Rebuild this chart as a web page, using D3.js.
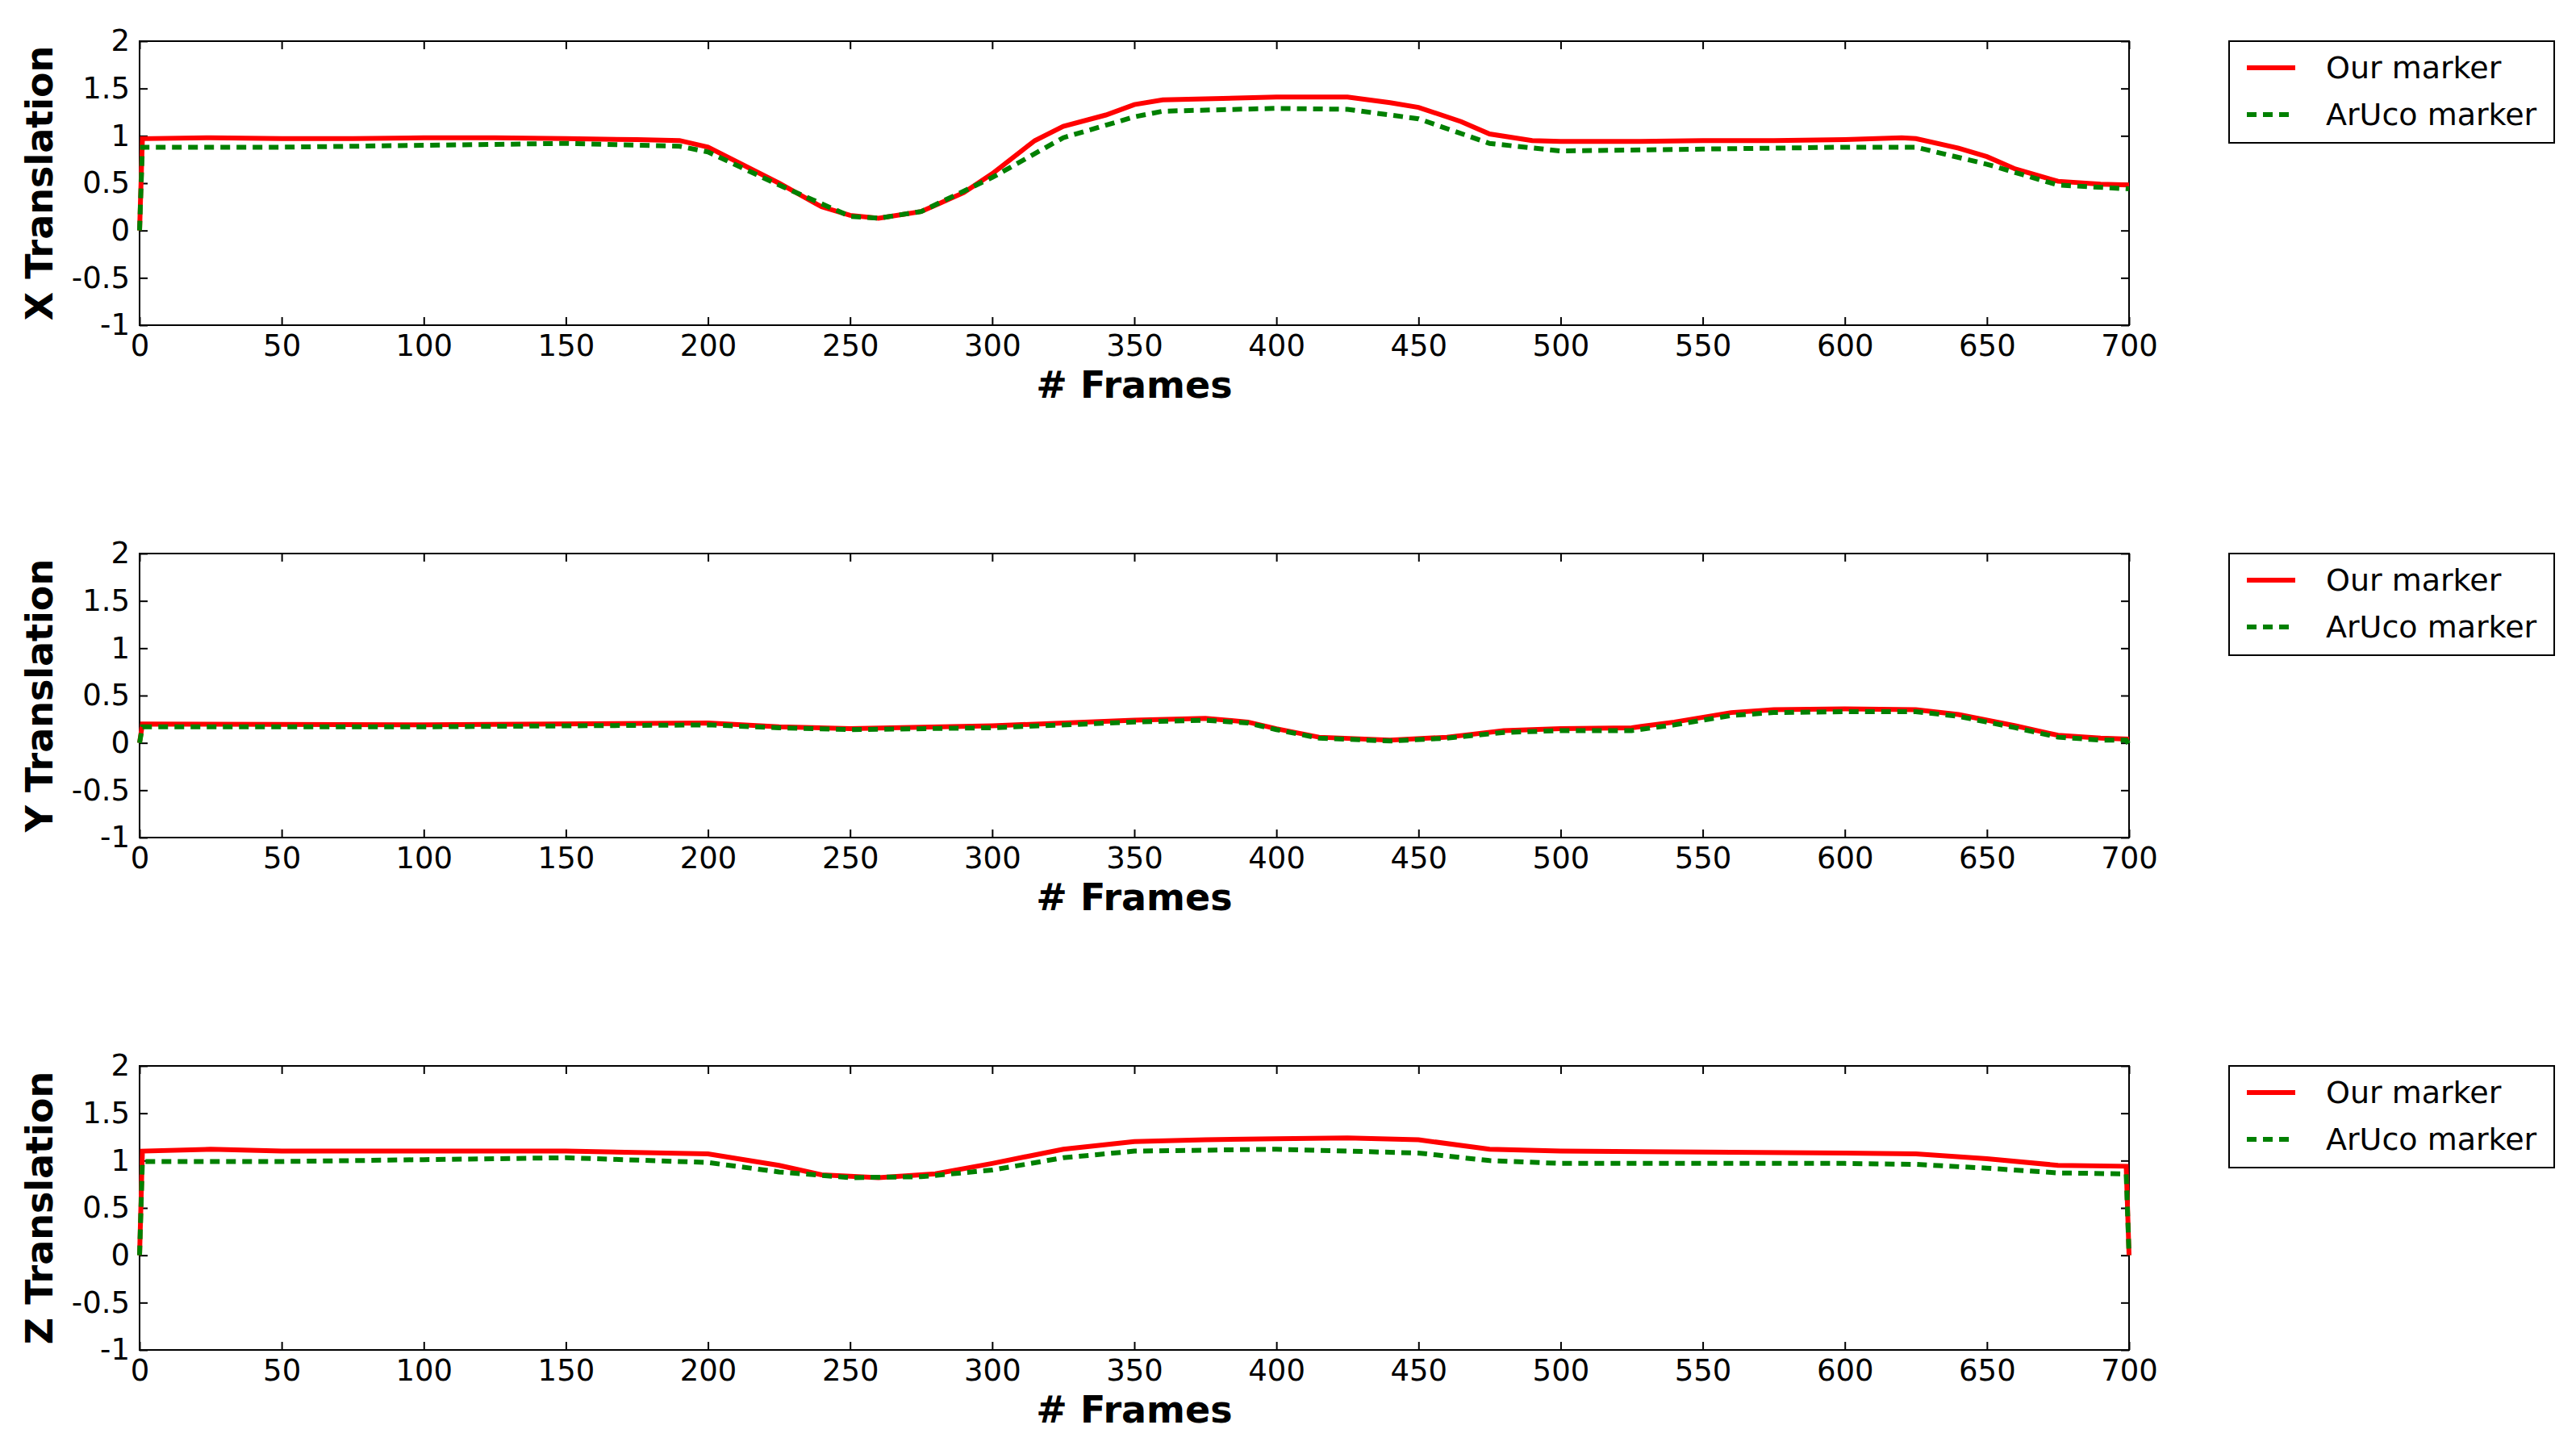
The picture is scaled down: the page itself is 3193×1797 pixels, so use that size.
<!DOCTYPE html><html><head><meta charset="utf-8">
<script src="https://cdn.jsdelivr.net/npm/d3@7"></script>
<style>body{margin:0;background:#fff}svg{font-family:"DejaVu Sans",sans-serif}</style></head><body>
<script>
const xTicks=[0,50,100,150,200,250,300,350,400,450,500,550,600,650,700];
const yTicks=[-1,-0.5,0,0.5,1,1.5,2];
const seriesNames=["Our marker","ArUco marker"];
const panelLabels=["X Translation","Y Translation","Z Translation"];
const xOurFrames=[0,1,25,50,75,100,125,150,175,190,200,225,240,250,260,275,290,300,315,325,340,350,360,375,400,425,440,450,465,475,490,500,525,550,575,600,620,625,640,650,660,675,690,700];
const xOurVals=[0,0.97,0.98,0.97,0.97,0.98,0.98,0.97,0.96,0.95,0.88,0.5,0.25,0.16,0.13,0.2,0.4,0.6,0.95,1.1,1.22,1.33,1.38,1.39,1.41,1.41,1.35,1.3,1.15,1.02,0.95,0.94,0.94,0.95,0.95,0.96,0.98,0.97,0.87,0.78,0.65,0.52,0.49,0.48];
const xArFrames=[0,1,50,100,150,190,200,225,250,260,275,300,325,350,360,400,425,450,475,500,550,600,625,650,675,700];
const xArVals=[0,0.88,0.88,0.9,0.92,0.89,0.83,0.48,0.15,0.13,0.2,0.56,0.98,1.2,1.26,1.29,1.28,1.18,0.92,0.84,0.86,0.88,0.88,0.7,0.48,0.44];
const yOurFrames=[0,1,100,200,225,250,300,350,375,390,400,415,440,460,480,500,525,540,560,575,600,625,640,660,675,690,700];
const yOurVals=[0,0.2,0.19,0.21,0.17,0.15,0.18,0.24,0.26,0.22,0.15,0.06,0.03,0.06,0.13,0.15,0.16,0.22,0.32,0.35,0.36,0.35,0.3,0.18,0.08,0.05,0.04];
const yArFrames=[0,1,100,200,225,250,300,350,375,390,400,415,440,460,480,500,525,540,560,575,600,625,640,660,675,690,699,700];
const yArVals=[0,0.17,0.17,0.19,0.16,0.14,0.16,0.22,0.24,0.21,0.14,0.05,0.02,0.05,0.11,0.13,0.13,0.19,0.29,0.32,0.33,0.33,0.28,0.16,0.06,0.03,0.03,-0.02];
const zOurFrames=[0,1,25,50,100,150,200,225,240,260,280,300,325,350,375,400,425,450,475,500,550,600,625,650,675,699,700];
const zOurVals=[0,1.1,1.12,1.1,1.1,1.1,1.07,0.95,0.85,0.82,0.86,0.97,1.12,1.2,1.22,1.23,1.24,1.22,1.12,1.1,1.09,1.08,1.07,1.02,0.95,0.94,0];
const zArFrames=[0,1,50,100,150,200,225,250,275,300,325,350,400,450,475,500,600,625,650,675,699,700];
const zArVals=[0,0.99,0.99,1.01,1.03,0.98,0.88,0.82,0.83,0.9,1.03,1.1,1.12,1.08,1.0,0.97,0.97,0.96,0.92,0.87,0.86,0];
const panels=[[xOurFrames,xOurVals,xArFrames,xArVals],[yOurFrames,yOurVals,yArFrames,yArVals],[zOurFrames,zOurVals,zArFrames,zArVals]];

const W=3193,H=1797,L=173,R=2639,tops=[51,686,1321],ph=352;
const svg=d3.select("body").append("svg").attr("width",W).attr("height",H);
const x=d3.scaleLinear().domain([0,700]).range([L,R]);
panels.forEach((p,i)=>{
  const t=tops[i];
  const y=d3.scaleLinear().domain([-1,2]).range([t+ph,t]);
  const g=svg.append("g");
  g.append("rect").attr("x",L).attr("y",t).attr("width",R-L).attr("height",ph).attr("fill","none").attr("stroke","#000").attr("stroke-width",2);
  const ax=g.append("g").attr("transform",`translate(0,${t+ph})`).call(d3.axisBottom(x).tickValues(xTicks).tickSize(-10).tickPadding(12));
  const ax2=g.append("g").attr("transform",`translate(0,${t})`).call(d3.axisTop(x).tickValues(xTicks).tickSize(-10).tickFormat(""));
  const ay=g.append("g").attr("transform",`translate(${L},0)`).call(d3.axisLeft(y).tickValues(yTicks).tickSize(-10).tickPadding(12).tickFormat(d3.format("")));
  const ay2=g.append("g").attr("transform",`translate(${R},0)`).call(d3.axisRight(y).tickValues(yTicks).tickSize(-10).tickFormat(""));
  [ax,ax2,ay,ay2].forEach(a=>{a.select(".domain").remove();a.selectAll("line").attr("stroke","#000").attr("stroke-width",2);a.selectAll("text").attr("font-size",37).attr("fill","#000").attr("font-family","DejaVu Sans");});
  ay.selectAll("text").text(d=>d<0?"-"+Math.abs(d):d);
  const line=d3.line().x(d=>x(d[0])).y(d=>y(d[1]));
  g.append("path").datum(p[0].map((f,k)=>[f,p[1][k]])).attr("d",line).attr("fill","none").attr("stroke","#ff0000").attr("stroke-width",6);
  g.append("path").datum(p[2].map((f,k)=>[f,p[3][k]])).attr("d",line).attr("fill","none").attr("stroke","#008000").attr("stroke-width",6).attr("stroke-dasharray","12,8");
  g.append("text").attr("x",(L+R)/2).attr("y",t+ph+90).attr("text-anchor","middle").attr("font-size",46).attr("font-weight","bold").text("# Frames");
  g.append("text").attr("transform",`translate(65,${t+ph/2}) rotate(-90)`).attr("text-anchor","middle").attr("font-size",46).attr("font-weight","bold").text(panelLabels[i]);
  const lg=svg.append("g").attr("transform",`translate(2763,${t})`);
  lg.append("rect").attr("width",403).attr("height",126).attr("fill","#fff").attr("stroke","#000").attr("stroke-width",2);
  seriesNames.forEach((n,k)=>{
    const yy=33+k*58;
    lg.append("line").attr("x1",22).attr("x2",82).attr("y1",yy).attr("y2",yy).attr("stroke",k?"#008000":"#ff0000").attr("stroke-width",6).attr("stroke-dasharray",k?"12,8":null);
    lg.append("text").attr("x",120).attr("y",yy+13).attr("font-size",38).text(n);
  });
});
</script></body></html>
